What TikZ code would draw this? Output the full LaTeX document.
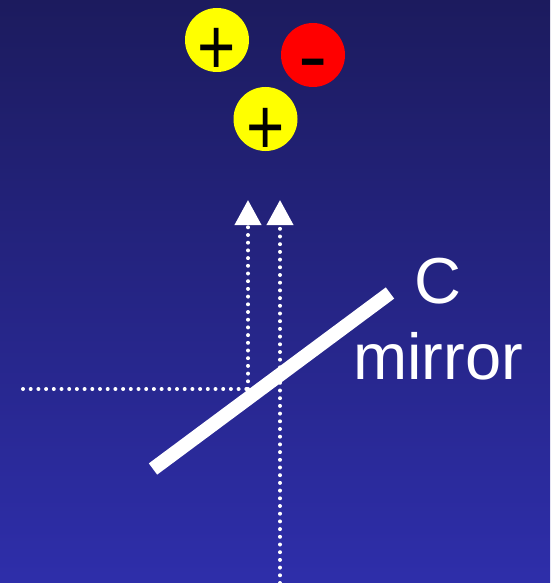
\documentclass[tikz,border=0pt]{standalone}
\usepackage{fontspec}
\setmainfont{Liberation Sans}
\usetikzlibrary{arrows.meta}
\definecolor{bgtop}{RGB}{28,27,94}
\definecolor{bgbot}{RGB}{46,46,170}
\definecolor{ballyellow}{RGB}{255,255,0}
\definecolor{ballred}{RGB}{255,0,0}
\tikzset{
  ball/.style={circle, minimum size=64pt, inner sep=0pt},
  sign/.style={inner sep=0pt, anchor=base, text=black, font=\fontsize{80}{80}\selectfont},
  ray/.style={white, line width=4pt, line cap=round, dash pattern=on 0pt off 7.7pt},
  tip/.style={-{Triangle[width=26pt,length=25pt]}},
  mirrorbar/.style={white, line width=14pt},
  label/.style={text=white, align=center, inner sep=0pt, font=\fontsize{65}{76}\selectfont}
}
\begin{document}
\begin{tikzpicture}[x=1pt,y=-1pt]
\shade[top color=bgtop, bottom color=bgbot] (0,0) rectangle (550,583);
\useasboundingbox (0,0) rectangle (550,583);
% balls
\node[ball, fill=ballyellow] (b1) at (217,40) {};
\node[ball, fill=ballred] (b2) at (313,55) {};
\node[ball, fill=ballyellow] (b3) at (265.5,119) {};
\node[sign] (s1) at (217,75) {\scalebox{0.82}[1]{+}};
\node[sign] (s2) at (313,84) {\scalebox{1.1}[1]{-}};
\node[sign] (s3) at (265.7,154.5) {\scalebox{0.82}[1]{+}};
% rays
\coordinate (hin) at (23,389);
\coordinate (hit1) at (248,389);
\coordinate (top1) at (248,200);
\coordinate (bot2) at (280,583);
\coordinate (top2) at (280,200);
\draw[ray] (hin) -- (hit1);
\draw[ray, tip] (hit1) -- (top1);
\draw[ray, tip] (bot2) -- (top2);
% mirror
\coordinate (m1) at (153,469);
\coordinate (m2) at (390,293);
\draw[mirrorbar] (m1) -- (m2);
\node[label, anchor=base] (lab) at (438,379) {C\\mirror};
\end{tikzpicture}
\end{document}
